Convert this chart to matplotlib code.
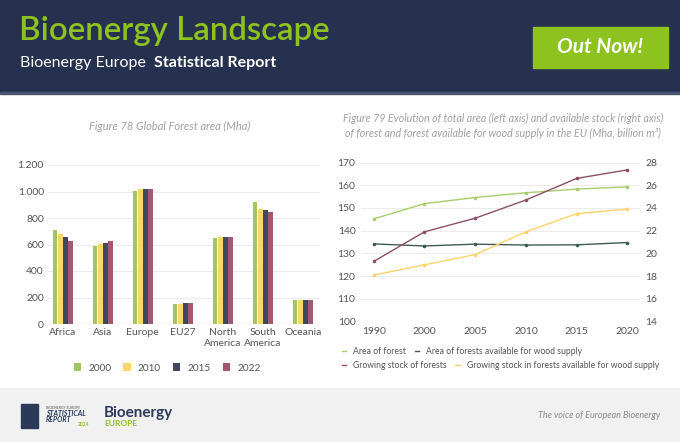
import matplotlib
matplotlib.use("Agg")
import matplotlib.pyplot as plt
import matplotlib.patches as patches
from matplotlib.lines import Line2D
import numpy as np


REGIONS = ["Africa", "Asia", "Europe", "EU27", "North\nAmerica", "South\nAmerica", "Oceania"]
BAR_YEARS = ["2000", "2010", "2015", "2022"]
AREA_2000 = [708, 585, 1003, 149, 650, 923, 181]
AREA_2010 = [676, 607, 1016, 154, 655, 870, 179]
AREA_2015 = [653, 615, 1016, 156, 655, 857, 181]
AREA_2022 = [630, 625, 1018, 159, 656, 842, 181]
BAR_TICKS = [0, 200, 400, 600, 800, 1000, 1200]
BAR_TICKLABELS = ["0", "200", "400", "600", "800", "1.000", "1.200"]

LINE_YEARS = ["1990", "2000", "2005", "2010", "2015", "2020"]
AREA_FOREST = [145.2, 151.9, 154.6, 156.7, 158.3, 159.3]
AREA_WOOD = [134.2, 133.3, 134.1, 133.7, 133.8, 134.8]
STOCK_FOREST = [19.3, 21.9, 23.1, 24.7, 26.6, 27.35]
STOCK_WOOD = [18.1, 19.0, 19.9, 21.9, 23.5, 23.9]

BAR_COLORS = ["#a3c55f", "#fdd668", "#3f4a60", "#a0596d"]
NAVY = "#25314f"
LIME = "#8dc21f"
GRID = "#ececec"
TICK = "#555555"
FONT = "Lato"

W, H = 680, 442


def px_axes(fig, x0, y0, x1, y1):
    # pixel box (top-left origin) -> figure axes
    return fig.add_axes([x0 / W, 1 - y1 / H, (x1 - x0) / W, (y1 - y0) / H])


fig = plt.figure(figsize=(W / 100, H / 100), dpi=100)
fig.patch.set_facecolor("white")

# background / decorations in pixel space
bg = fig.add_axes([0, 0, 1, 1])
bg.set_xlim(0, W)
bg.set_ylim(H, 0)
bg.axis("off")
bg.add_patch(patches.Rectangle((0, 0), W, 92, color=NAVY, zorder=0))
bg.add_patch(patches.Rectangle((0, 92), W, 1.5, color="#4a5672", zorder=0))
bg.add_patch(patches.Rectangle((0, 388), W, H - 388, color="#f1f1f1", zorder=0))
bg.add_patch(patches.Rectangle((533, 27), 135, 41, color=LIME, zorder=1))

bg.text(19, 31, "Bioenergy Landscape", color=LIME, fontsize=23.8, family=FONT,
        fontweight="semibold", va="center", ha="left")
bg.text(20, 63, "Bioenergy Europe", color="white", fontsize=11.5, family=FONT,
        va="center", ha="left")
bg.text(276, 63, "Statistical Report", color="white", fontsize=11.5, family=FONT,
        fontweight="bold", va="center", ha="right")
bg.text(600, 47, "Out Now!", color="white", fontsize=15, family=FONT,
        fontstyle="italic", fontweight="bold", va="center", ha="center")

bg.text(170, 126, "Figure 78 Global Forest area (Mha)", color="#a0a0a0", fontsize=8,
        family=FONT, fontstyle="italic", ha="center", va="center")
bg.text(503, 118, "Figure 79 Evolution of total area (left axis) and available stock (right axis)",
        color="#a0a0a0", fontsize=7.7, family=FONT, fontstyle="italic", ha="center", va="center")
bg.text(503, 133, "of forest and forest available for wood supply in the EU (Mha, billion m³)",
        color="#a0a0a0", fontsize=7.7, family=FONT, fontstyle="italic", ha="center", va="center")

# footer
bg.add_patch(patches.Rectangle((21, 404), 17, 24, color="#2c3a5a", zorder=1))
bg.text(46, 408, "BIOENERGY EUROPE", color="#555555", fontsize=2.5, family=FONT, va="center")
bg.text(46, 413, "STATISTICAL", color="#2c3a5a", fontsize=5, family=FONT,
        fontweight="bold", fontstyle="italic", va="center")
bg.text(46, 419, "REPORT", color="#2c3a5a", fontsize=5, family=FONT,
        fontweight="bold", fontstyle="italic", va="center")
bg.text(78, 424, "2024", color=LIME, fontsize=3.5, family=FONT, fontweight="bold", va="center")
bg.text(104, 413, "Bioenergy", color="#2c3a5a", fontsize=11, family=FONT,
        fontweight="bold", va="center")
bg.text(104, 424, "EUROPE", color=LIME, fontsize=6, family=FONT, fontweight="bold", va="center")
bg.text(660, 416, "The voice of European Bioenergy", color="#8a8a8a", fontsize=6.5,
        family=FONT, fontstyle="italic", ha="right", va="center")

# ---- bar chart
ax = px_axes(fig, 48, 165, 320, 324)
x = np.arange(len(REGIONS))
series = [AREA_2000, AREA_2010, AREA_2015, AREA_2022]
bw = 0.118
for i, (vals, col, lab) in enumerate(zip(series, BAR_COLORS, BAR_YEARS)):
    ax.bar(x + (i - 1.5) * 0.13, vals, width=bw, color=col, label=lab, zorder=3)
ax.set_xlim(-0.37, 6.43)
ax.set_ylim(0, 1200)
ax.set_yticks(BAR_TICKS, labels=BAR_TICKLABELS)
ax.set_xticks(x, labels=REGIONS)
ax.grid(axis="y", color=GRID, linewidth=0.8, zorder=0)
for s in ax.spines.values():
    s.set_visible(False)
ax.axhline(0, color="#d0d0d0", linewidth=0.8, zorder=4)
ax.tick_params(length=0, labelsize=7.5, labelcolor=TICK, pad=3)
for t in ax.get_xticklabels() + ax.get_yticklabels():
    t.set_family(FONT)
ax.set_facecolor("none")
ax.legend(loc="center", bbox_to_anchor=(167 / W, 1 - 368 / H), bbox_transform=fig.transFigure,
          ncol=4, frameon=False, handlelength=0.75, handleheight=0.75, handletextpad=0.7,
          columnspacing=1.2, prop={"family": FONT, "size": 7.2}, labelcolor=TICK)

# ---- line chart
ax2 = px_axes(fig, 361, 162.5, 640, 321.7)
ax3 = ax2.twinx()
xl = np.arange(len(LINE_YEARS))
l1, = ax2.plot(xl, AREA_FOREST, color="#a9cd6b", lw=1, marker="o", ms=1.6, zorder=3)
l2, = ax2.plot(xl, AREA_WOOD, color="#3e5b55", lw=1, marker="o", ms=1.6, zorder=3)
l3, = ax3.plot(xl, STOCK_FOREST, color="#8e4f68", lw=1, marker="o", ms=1.6, zorder=3)
l4, = ax3.plot(xl, STOCK_WOOD, color="#fdd26b", lw=1, marker="o", ms=1.6, zorder=3)
ax2.set_xlim(-0.25, 5.25)
ax2.set_ylim(100, 170)
ax3.set_ylim(14, 28)
ax2.set_yticks(range(100, 171, 10))
ax3.set_yticks(range(14, 29, 2))
ax2.set_xticks(xl, labels=LINE_YEARS)
ax2.grid(axis="y", color=GRID, linewidth=0.8, zorder=0)
for a in (ax2, ax3):
    for s in a.spines.values():
        s.set_visible(False)
    a.tick_params(length=0, labelsize=7.5, labelcolor=TICK, pad=4)
    for t in a.get_xticklabels() + a.get_yticklabels():
        t.set_family(FONT)
    a.set_facecolor("none")


def proxy(line):
    return Line2D([], [], color=line.get_color(), lw=1)


leg_kw = dict(frameon=False, ncol=2, handlelength=0.5, handletextpad=0.8, columnspacing=1.0,
              prop={"family": FONT, "size": 6.2}, labelcolor=TICK,
              bbox_transform=fig.transFigure, loc="center left", borderaxespad=0, borderpad=0)
leg1 = ax2.legend([proxy(l1), proxy(l2)], ["Area of forest", "Area of forests available for wood supply"],
                  bbox_to_anchor=(342 / W, 1 - 352 / H), **leg_kw)
ax2.add_artist(leg1)
ax2.legend([proxy(l3), proxy(l4)], ["Growing stock of forests", "Growing stock in forests available for wood supply"],
           bbox_to_anchor=(342 / W, 1 - 366 / H), **leg_kw)

fig.savefig("out.png", dpi=100)
